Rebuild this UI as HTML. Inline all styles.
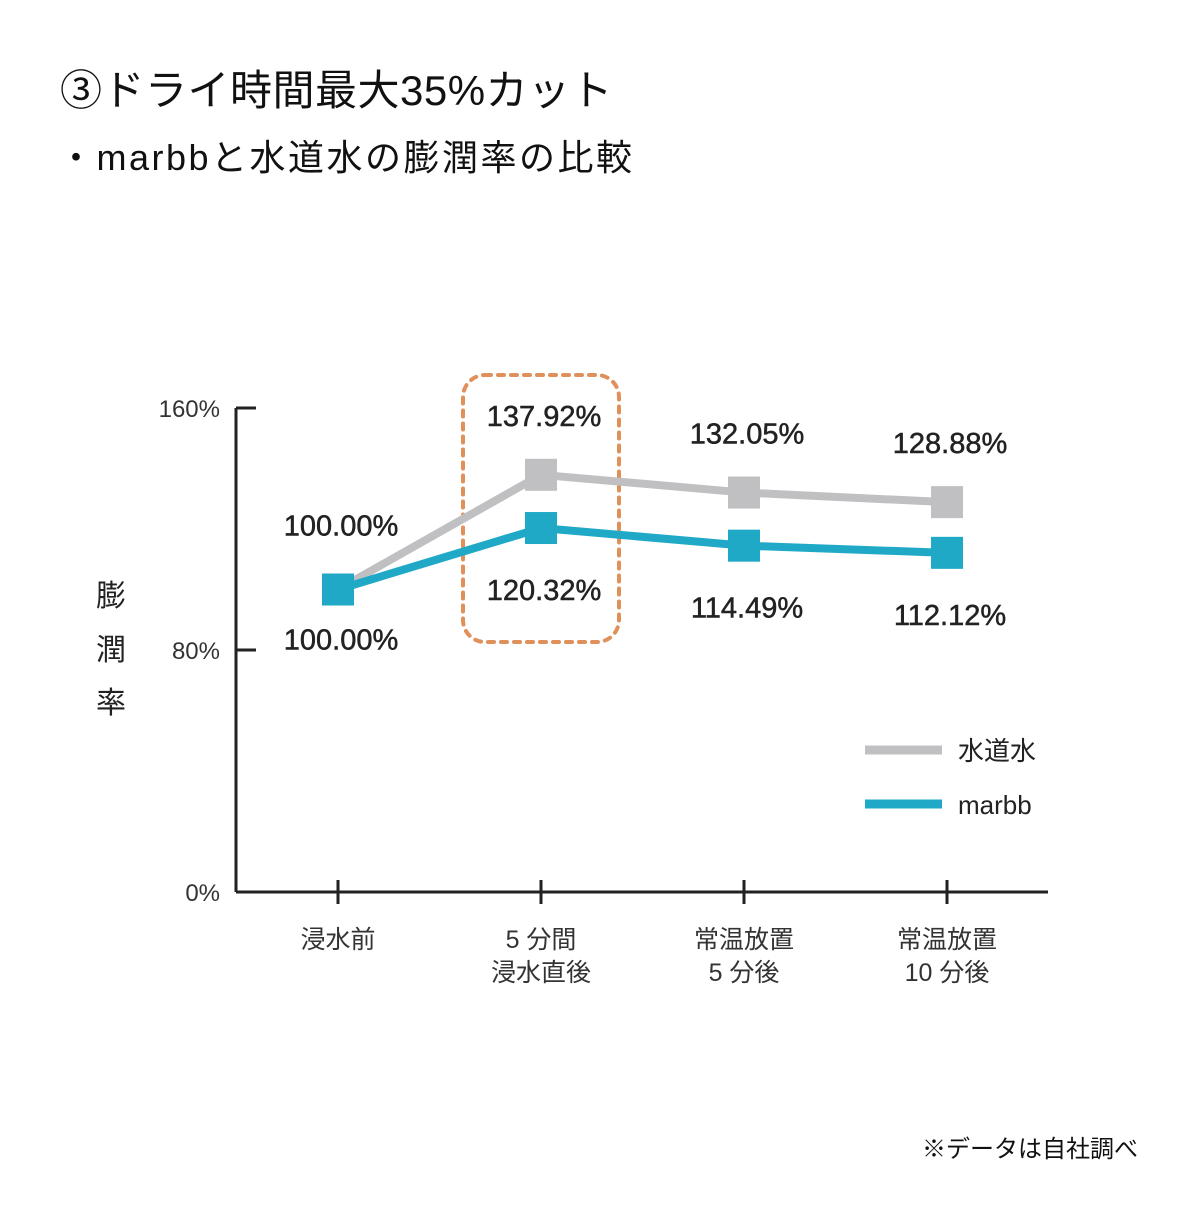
<!DOCTYPE html>
<html><head><meta charset="utf-8">
<style>
body{margin:0;background:#fff;}
svg text{font-family:"Liberation Sans","Noto Sans CJK JP",sans-serif;}
</style></head>
<body>
<svg width="1200" height="1200" viewBox="0 0 1200 1200" xmlns="http://www.w3.org/2000/svg">
<text x="60" y="105" font-size="42" letter-spacing="0.5" fill="#111">③ドライ時間最大35%カット</text>
<text x="58" y="170" font-size="36" letter-spacing="2.5" fill="#111">・marbbと水道水の膨潤率の比較</text>
<rect x="463" y="375" width="156" height="267" rx="22" fill="none" stroke="#e0905a" stroke-width="4" stroke-dasharray="6 7" stroke-linecap="round"/>
<g id="axes"></g>
<g id="marks"></g>
<g font-size="30" fill="#222">
<text x="111" y="606" text-anchor="middle">膨</text>
<text x="111" y="660" text-anchor="middle">潤</text>
<text x="111" y="713" text-anchor="middle">率</text>
</g>
<line x1="865" y1="750" x2="942" y2="750" stroke="#c0c0c2" stroke-width="9"/>
<text x="958" y="760" font-size="26" fill="#222">水道水</text>
<line x1="865" y1="804" x2="942" y2="804" stroke="#1fa9c6" stroke-width="9"/>
<text x="958" y="814" font-size="26" fill="#222">marbb</text>
<text x="1138" y="1157" font-size="24" fill="#111" text-anchor="end">※データは自社調べ</text>
</svg>
<script>
const categories=[["浸水前"],["5 分間","浸水直後"],["常温放置","5 分後"],["常温放置","10 分後"]];
const tapValues=[100.00,137.92,132.05,128.88];
const marbbValues=[100.00,120.32,114.49,112.12];
const yTicks=[0,80,160];
const NS="http://www.w3.org/2000/svg";
const x0=236,x1=1048,yBase=892,pxPer=242/80;
const xS=i=>338+i*203;
const yS=v=>yBase-v*pxPer;
const axes=document.getElementById('axes'),marks=document.getElementById('marks');
function mk(tag,attrs,parent,text){const e=document.createElementNS(NS,tag);for(const k in attrs)e.setAttribute(k,attrs[k]);if(text!==undefined)e.textContent=text;parent.appendChild(e);return e;}
let e=mk('line',{x1:x0,y1:yS(160),x2:x0,y2:yBase,stroke:'#222','stroke-width':3},axes);


e=mk('line',{x1:x0,y1:yBase,x2:x1,y2:yBase,stroke:'#222','stroke-width':3},axes);


yTicks.forEach(t=>{
 const y=yS(t);
 if(t>0){e=mk('line',{x1:x0,y1:y,x2:x0+20,y2:y,stroke:'#222','stroke-width':3},axes);
 
 }
 e=mk('text',{x:220,y:y+9,'font-size':24,fill:'#333','text-anchor':'end'},axes,t+'%');
 
 
});
categories.forEach((c,i)=>{
 const x=xS(i);
 e=mk('line',{x1:x,y1:yBase-12,x2:x,y2:yBase+12,stroke:'#222','stroke-width':3},axes);
 
 
 c.forEach((l,j)=>{
  e=mk('text',{x:x,y:948+j*33,'font-size':25,fill:'#333','text-anchor':'middle'},axes,l);
  
  
 });
});
function series(vals,color,name){
 e=mk('polyline',{points:vals.map((v,i)=>xS(i)+','+yS(v)).join(' '),fill:'none',stroke:color,'stroke-width':8},marks);
 
 
 vals.forEach((v,i)=>{
  e=mk('rect',{x:xS(i)-16,y:yS(v)-16,width:32,height:32,fill:color},marks);
  
  
 });
}
series(tapValues,'#c0c0c2','tap');
series(marbbValues,'#1fa9c6','marbb');
function labels(vals,name,off,firstOff){
 vals.forEach((v,i)=>{
  const y=yS(v)+(i===0?firstOff:off);
  e=mk('text',{x:xS(i)+3,y:y+10,'font-size':29,fill:'#222','text-anchor':'middle',stroke:'#222','stroke-width':0.5},marks,v.toFixed(2)+'%');
  
  
 });
}
labels(tapValues,'tap',-59,-64);
labels(marbbValues,'marbb',62,50);
</script>
</body></html>
